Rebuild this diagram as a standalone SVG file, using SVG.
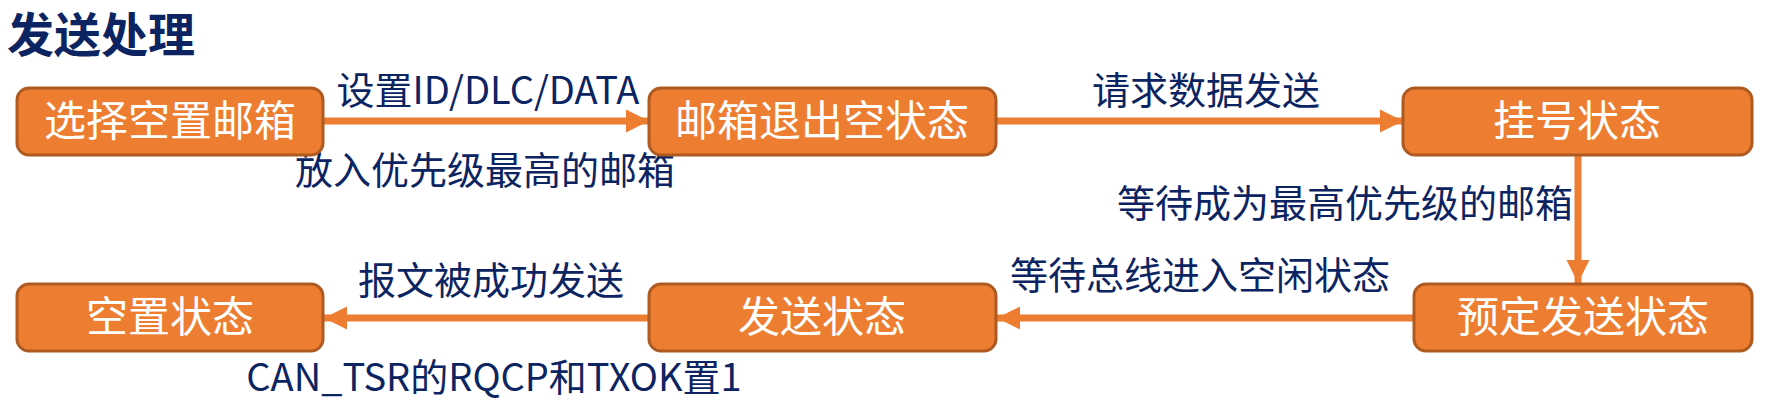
<svg xmlns="http://www.w3.org/2000/svg" width="1779" height="411" viewBox="0 0 1779 411">
<style>
.box{fill:#ED7D31;stroke:#AE5A21;stroke-width:3}
.bt{fill:#FFFFFF;font-family:"Noto Sans CJK SC","Microsoft YaHei",sans-serif;font-size:42px;text-anchor:middle}
.lb{fill:#0C2461;font-family:"Noto Sans CJK SC","Microsoft YaHei",sans-serif;font-size:38px;text-anchor:middle}
.ttl{fill:#0C2461;font-family:"Noto Sans CJK SC","Microsoft YaHei",sans-serif;font-size:47px;font-weight:bold}
.cn{stroke:#ED7D31;stroke-width:7;fill:none}
</style>
<defs>
<marker id="ah" viewBox="0 0 10 10" refX="10" refY="5" markerWidth="3.3" markerHeight="3.4" markerUnits="strokeWidth" orient="auto">
<path d="M0,0 L10,5 L0,10 Z" fill="#ED7D31"/>
</marker>
</defs>
<rect width="1779" height="411" fill="#FFFFFF"/>
<text class="ttl" x="7" y="52">发送处理</text>
<g id="connectors">
<line class="cn" x1="324" y1="121" x2="649" y2="121" marker-end="url(#ah)"/>
<line class="cn" x1="997" y1="121" x2="1403" y2="121" marker-end="url(#ah)"/>
<line class="cn" x1="1578" y1="156" x2="1578" y2="283" marker-end="url(#ah)"/>
<line class="cn" x1="1414" y1="318" x2="997" y2="318" marker-end="url(#ah)"/>
<line class="cn" x1="648" y1="318" x2="324" y2="318" marker-end="url(#ah)"/>
</g>
<g id="labels">
<text class="lb" x="488" y="104">设置ID/DLC/DATA</text>
<text class="lb" x="485" y="184">放入优先级最高的邮箱</text>
<text class="lb" x="1206" y="104">请求数据发送</text>
<text class="lb" x="1345" y="217">等待成为最高优先级的邮箱</text>
<text class="lb" x="1200" y="289">等待总线进入空闲状态</text>
<text class="lb" x="491" y="294">报文被成功发送</text>
<text class="lb" x="494" y="391">CAN_TSR的RQCP和TXOK置1</text>
</g>
<g id="n1"><rect class="box" x="17" y="88" width="306" height="67" rx="12"/><text class="bt" x="170" y="136">选择空置邮箱</text></g>
<g id="n2"><rect class="box" x="649" y="88" width="347" height="67" rx="12"/><text class="bt" x="822" y="136">邮箱退出空状态</text></g>
<g id="n3"><rect class="box" x="1403" y="88" width="349" height="67" rx="12"/><text class="bt" x="1577" y="136">挂号状态</text></g>
<g id="n4"><rect class="box" x="1414" y="284" width="338" height="67" rx="12"/><text class="bt" x="1583" y="332">预定发送状态</text></g>
<g id="n5"><rect class="box" x="649" y="284" width="347" height="67" rx="12"/><text class="bt" x="822" y="332">发送状态</text></g>
<g id="n6"><rect class="box" x="17" y="284" width="306" height="67" rx="12"/><text class="bt" x="170" y="332">空置状态</text></g>
</svg>
